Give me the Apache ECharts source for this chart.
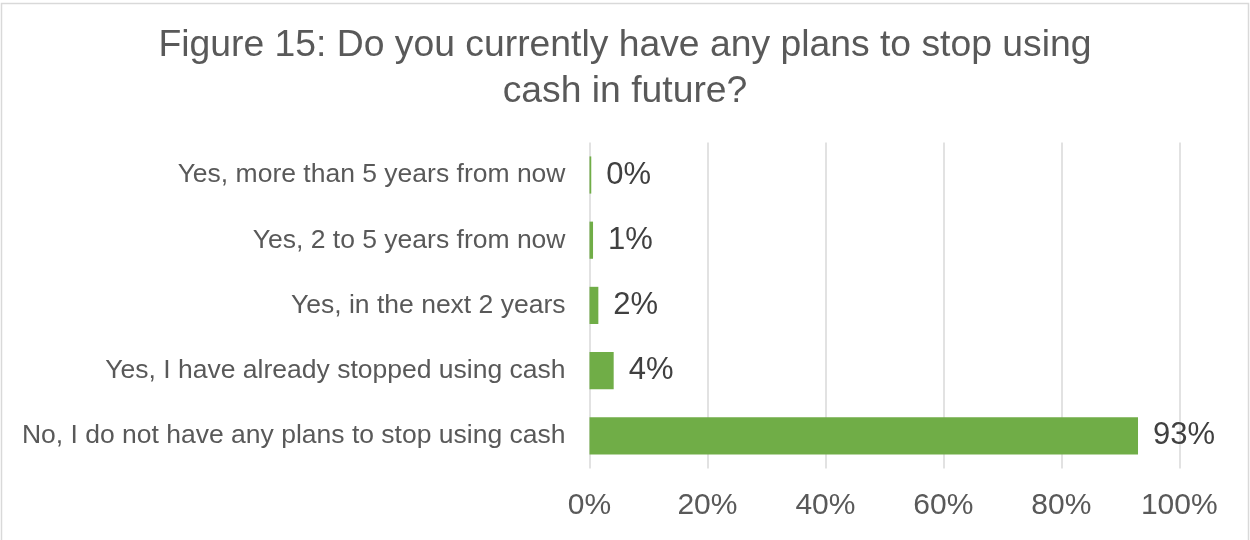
<!DOCTYPE html>
<html>
<head>
<meta charset="utf-8">
<script src="https://cdn.jsdelivr.net/npm/echarts@6/dist/echarts.min.js"></script>
<style>
html,body{margin:0;padding:0;background:#fff;}
#chart{width:1250px;height:540px;}
</style>
</head>
<body>
<div id="chart"></div>
<script>
const titleText = "Figure 15: Do you currently have any plans to stop using\ncash in future?";
const categories = [
  "Yes, more than 5 years from now",
  "Yes, 2 to 5 years from now",
  "Yes, in the next 2 years",
  "Yes, I have already stopped using cash",
  "No, I do not have any plans to stop using cash"
];
const values = [0.3, 0.6, 1.5, 4.1, 93.0];
const xTicks = [0, 20, 40, 60, 80, 100];

const chart = echarts.init(document.getElementById('chart'), null, {renderer: 'canvas'});
chart.setOption({
  backgroundColor: '#fff',
  animation: false,
  textStyle: {fontFamily: 'Liberation Sans, Arial, sans-serif'},
  graphic: [{
    type: 'rect',
    shape: {x: 1.5, y: 3.5, width: 1247, height: 545},
    style: {fill: 'none', stroke: '#d9d9d9', lineWidth: 1.5},
    silent: true
  }],
  title: {
    text: titleText,
    left: 'center',
    top: 18,
    textStyle: {
      fontFamily: 'Liberation Sans, Arial, sans-serif',
      fontSize: 37.3,
      fontWeight: 'normal',
      color: '#595959',
      lineHeight: 46
    }
  },
  grid: {left: 589.5, right: 70.7, top: 142.4, height: 326, containLabel: false},
  xAxis: {
    type: 'value',
    min: 0,
    max: 100,
    interval: 20,
    axisLine: {show: false},
    axisTick: {show: false},
    splitLine: {show: true, lineStyle: {color: '#d9d9d9', width: 1.5}},
    axisLabel: {
      formatter: function (v) { return xTicks.indexOf(v) >= 0 ? v + '%' : ''; },
      fontSize: 30,
      color: '#595959',
      margin: 22,
      fontFamily: 'Liberation Sans, Arial, sans-serif'
    }
  },
  yAxis: {
    type: 'category',
    data: categories,
    inverse: true,
    axisLine: {show: false},
    axisTick: {show: false},
    axisLabel: {
      fontSize: 26.5,
      color: '#595959',
      margin: 24,
      fontFamily: 'Liberation Sans, Arial, sans-serif'
    }
  },
  series: [{
    type: 'bar',
    data: values,
    barCategoryGap: '43%',
    itemStyle: {color: '#70ad47'},
    label: {
      show: true,
      position: 'right',
      distance: 15,
      formatter: function (p) { return Math.round(p.value) + '%'; },
      fontSize: 31,
      color: '#404040',
      fontFamily: 'Liberation Sans, Arial, sans-serif'
    }
  }]
});
</script>
</body>
</html>
